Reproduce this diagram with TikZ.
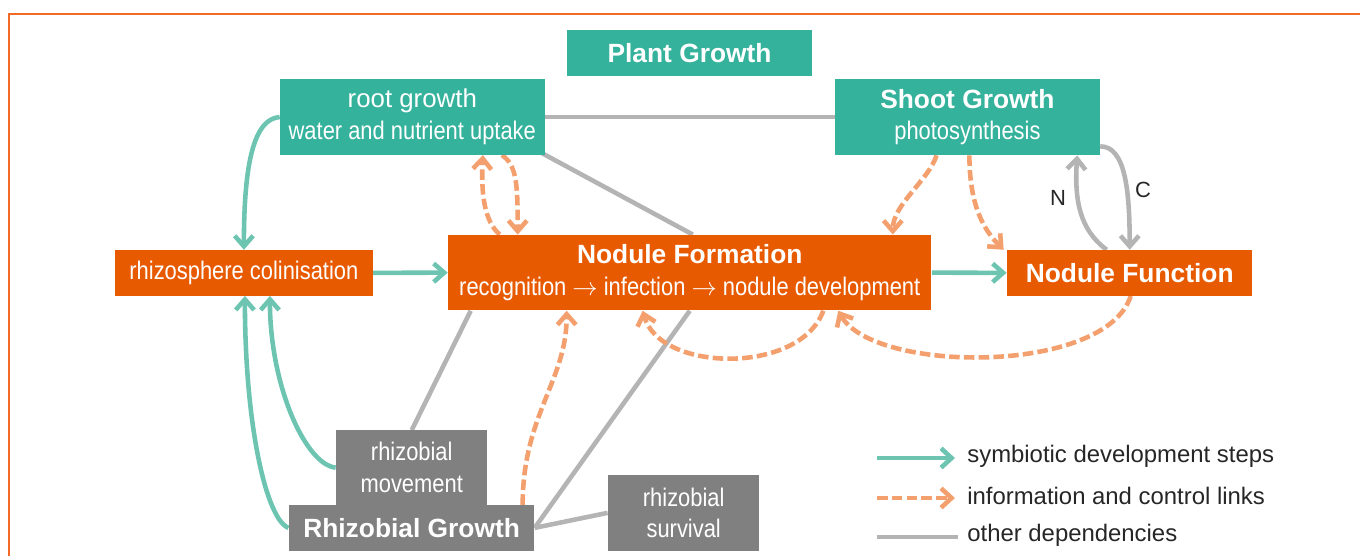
\documentclass[tikz,border=0pt]{standalone}
\usepackage{fontspec}
\setmainfont{Liberation Sans}
\newfontfamily\narrowfont[FakeStretch=0.86]{Liberation Sans}
\usetikzlibrary{arrows.meta,calc,backgrounds}

\definecolor{plantteal}{RGB}{53,178,156}
\definecolor{noduleorange}{RGB}{232,90,0}
\definecolor{rhizogray}{RGB}{128,128,128}
\definecolor{stepteal}{RGB}{108,196,177}
\definecolor{linkorange}{RGB}{243,160,110}
\definecolor{depgray}{RGB}{180,180,180}
\definecolor{framered}{RGB}{242,106,38}

\newcommand{\headline}[1]{{\rmfamily\bfseries\fontsize{15}{18}\selectfont #1}}
\newcommand{\wideline}[1]{{\rmfamily\fontsize{14.7}{18}\selectfont #1}}

\begin{document}
\begin{tikzpicture}[x=0.02cm, y=-0.02cm,
  box/.style = {rectangle, inner sep=0pt, text=white, align=center,
                font=\narrowfont\fontsize{14.5}{18}\selectfont},
  plantbox/.style = {box, fill=plantteal},
  nodulebox/.style = {box, fill=noduleorange},
  rhizobox/.style = {box, fill=rhizogray},
  tip/.style = {-{Straight Barb[length=6pt,width=10.5pt]}},
  devstep/.style = {draw=stepteal, line width=2.6pt, tip},
  infolink/.style = {draw=linkorange, line width=2.6pt, dash pattern=on 6pt off 2.4pt, tip},
  otherdep/.style = {draw=depgray, line width=2.6pt},
  flowlabel/.style = {inner sep=0pt, text=black!85, font=\fontsize{12.5}{15}\selectfont},
  keytext/.style = {anchor=west, inner sep=0pt, text=black!85, font=\fontsize{13.6}{16}\selectfont}]

\useasboundingbox (0,0) rectangle (1360,556);
\draw[framered, line width=1.5pt] (1360,14) -| (9,556);

% plant
\node[plantbox, minimum width=4.9cm, minimum height=0.91cm] (plant) at (689.5,52.75) {\headline{Plant Growth}};
\node[plantbox, minimum width=5.29cm, minimum height=1.51cm] (root) at (412.3,117) {\wideline{root growth}\\water and nutrient uptake};
\node[plantbox, minimum width=5.3cm, minimum height=1.52cm] (shoot) at (967.4,117) {\headline{Shoot Growth}\\photosynthesis};

% nodule
\node[nodulebox, minimum width=5.16cm, minimum height=0.91cm] (rhizo) at (243.9,272.85) {rhizosphere colinisation};
\node[nodulebox, minimum width=9.67cm, minimum height=1.51cm] (nodform) at (689.75,272.65) {\headline{Nodule Formation}\\recognition $\rightarrow$ infection $\rightarrow$ nodule development};
\node[nodulebox, minimum width=4.91cm, minimum height=0.91cm] (nodfun) at (1129.7,272.85) {\headline{Nodule Function}};

% rhizobia
\node[rhizobox, minimum width=3.03cm, minimum height=1.49cm] (movement) at (411.75,467.65) {rhizobial\\movement};
\node[rhizobox, minimum width=4.91cm, minimum height=0.91cm] (growth) at (411.6,527.85) {\headline{Rhizobial Growth}};
\node[rhizobox, minimum width=3.03cm, minimum height=1.51cm] (survival) at (683.7,512.85) {rhizobial\\survival};

\node[flowlabel] (nlabel) at (1058,198) {N};
\node[flowlabel] (clabel) at (1143,190) {C};

\begin{scope}[on background layer]
% other dependencies
\draw[otherdep] (root.east) -- (shoot.west);
\draw[otherdep] ($(root.south east)+(-3,-2)$) -- ($(nodform.north)+(3,0)$);
\draw[otherdep] (movement.north) -- ($(nodform.south west)+(23,0)$);
\draw[otherdep] (growth.east) -- (nodform.south);
\draw[otherdep] (growth.east) -- (survival.west);
\draw[otherdep, tip] ($(nodfun.north)+(-23,0)$) .. controls +(-27,-20) and +(-3,45) .. ($(shoot.south east)+(-23,0)$);
\draw[otherdep, tip] ($(shoot.south east)+(0,-9)$) .. controls +(25,0) and +(0,-60) .. (nodfun.north);

% development steps
\draw[devstep] (root.west) .. controls +(-25,2) and +(0,-90) .. (rhizo.north);
\draw[devstep] (rhizo.east) -- (nodform.west);
\draw[devstep] (nodform.east) -- (nodfun.west);
\draw[devstep] (growth.west) .. controls +(-22,-8) and +(0,130) .. ($(rhizo.south)+(1,0)$);
\draw[devstep] (movement.west) .. controls +(-30,-3) and +(0,90) .. ($(rhizo.south)+(26,0)$);

% information and control
\draw[infolink] ($(nodform.north west)+(52,0)$) .. controls +(-15,-13) and +(-2,40) .. ($(root.south east)+(-62,0)$);
\draw[infolink] ($(root.south east)+(-43,0)$) .. controls +(15,10) and +(0,-50) .. ($(nodform.north west)+(70,0)$);
\draw[infolink] ($(shoot.south west)+(102,0)$) .. controls +(-8,25) and +(0,-30) .. ($(nodform.north east)+(-39,0)$);
\draw[infolink] ($(shoot.south)+(2,0)$) .. controls +(0,50) and +(-20,-20) .. ($(nodfun.north west)+(-3,0)$);
\draw[infolink] ($(nodfun.south)+(1,0)$) .. controls +(-25,79) and +(35,63) .. ($(nodform.south east)+(-93.5,0)$);
\draw[infolink] ($(nodform.south east)+(-108.5,0)$) .. controls +(-23,64) and +(17,62) .. ($(nodform.south west)+(195,0)$);
\draw[infolink] ($(growth.north east)+(-12,0)$) .. controls +(0,-90) and +(0,70) .. ($(nodform.south west)+(119,0)$);
\end{scope}

% key
\node[keytext] (keystep) at (967,456) {symbiotic development steps};
\node[keytext] (keylink) at (967,496) {information and control links};
\node[keytext] (keydep) at (967,535) {other dependencies};
\draw[devstep, -{Straight Barb[length=6pt,width=11pt]}] ($(keystep.west)+(-90,2)$) -- ($(keystep.west)+(-12,2)$);
\draw[infolink, -{Straight Barb[length=6pt,width=11pt]}] ($(keylink.west)+(-90,2)$) -- ($(keylink.west)+(-12,2)$);
\draw[otherdep] ($(keydep.west)+(-90,2)$) -- ($(keydep.west)+(-9.5,2)$);
\end{tikzpicture}
\end{document}
